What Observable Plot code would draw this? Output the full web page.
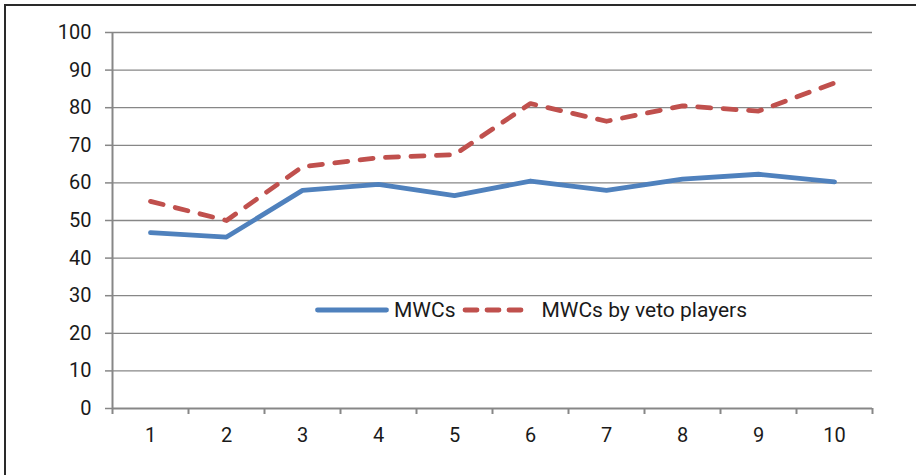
<!DOCTYPE html>
<html>
<head>
<meta charset="utf-8">
<script src="https://cdn.jsdelivr.net/npm/d3@7"></script>
<script src="https://cdn.jsdelivr.net/npm/@observablehq/plot@0.6"></script>
<style>
  html, body { margin: 0; padding: 0; background: #fff; }
  #wrap { position: relative; width: 916px; height: 475px; overflow: hidden; font-family: Roboto, sans-serif; }
  #frame { position: absolute; left: 4px; top: 4px; width: 1000px; height: 1000px; border-left: 2px solid #2a2a2a; border-top: 2px solid #2a2a2a; }
  #legend { position: absolute; left: 315px; top: 296px; display: flex; align-items: center; font-size: 21px; line-height: 28px; color: #1a1a1a; white-space: nowrap; }
  #legend svg { display: block; }
  #chart svg text { font-size: 20px !important; font-family: Roboto, sans-serif !important; }
</style>
</head>
<body>
<div id="wrap">
  <div id="frame"></div>
  <div id="chart"></div>
  <div id="legend"></div>
</div>
<script>
const categories = [1, 2, 3, 4, 5, 6, 7, 8, 9, 10];
const mwcs = [46.8, 45.6, 58.0, 59.6, 56.6, 60.5, 58.0, 61.0, 62.3, 60.3];
const mwcsVeto = [55.1, 50.0, 64.3, 66.7, 67.5, 81.1, 76.4, 80.5, 79.1, 86.6];
const yTicks = [0, 10, 20, 30, 40, 50, 60, 70, 80, 90, 100];
const seriesNames = ["MWCs", "MWCs by veto players"];
const seriesColors = ["#4F81BD", "#C0504D"];

const boundaries = [0.5, ...categories.map(c => c + 0.5)];
const rows = categories.map((c, i) => ({cat: c, value: mwcs[i], series: seriesNames[0]}));
const rowsVeto = categories.map((c, i) => ({cat: c, value: mwcsVeto[i], series: seriesNames[1]}));

const chart = Plot.plot({
  width: 916,
  height: 475,
  marginLeft: 112,
  marginRight: 44,
  marginTop: 32,
  marginBottom: 67,
  style: {fontFamily: "Roboto, sans-serif", fontSize: "20px", color: "#1a1a1a", background: "transparent", overflow: "visible"},
  x: {domain: [0.5, 10.5], axis: null},
  y: {domain: [0, 100], axis: null},
  marks: [
    Plot.ruleY(yTicks.filter(t => t > 0), {stroke: "#878787", strokeWidth: 1.3, strokeOpacity: 1}),
    Plot.axisY({ticks: yTicks, tickSize: 7, tickPadding: 14, stroke: "#878787", strokeWidth: 1.5, fill: "#1a1a1a", strokeOpacity: 1, fontSize: 20, label: null}),
    Plot.axisX({ticks: boundaries, tickSize: 6, tickFormat: () => "", stroke: "#878787", strokeWidth: 2, strokeOpacity: 1, label: null}),
    Plot.axisX({ticks: categories, tickSize: 0, tickPadding: 19, fill: "#1a1a1a", fontSize: 20, label: null, tickFormat: d => String(d)}),
    Plot.ruleX([0.5], {stroke: "#878787", strokeWidth: 2}),
    Plot.ruleY([0], {stroke: "#878787", strokeWidth: 2}),
    Plot.line(rows, {x: "cat", y: "value", stroke: seriesColors[0], strokeWidth: 4.8, strokeLinejoin: "round", strokeLinecap: "round"}),
    Plot.line(rowsVeto, {x: "cat", y: "value", stroke: seriesColors[1], strokeWidth: 4.8, strokeDasharray: "13,12.5", strokeLinecap: "round", strokeLinejoin: "round"})
  ]
});
document.getElementById("chart").appendChild(chart);

const legend = document.getElementById("legend");
legend.innerHTML = `
  <svg width="74" height="10"><line x1="2.5" y1="5" x2="71.5" y2="5" stroke="${seriesColors[0]}" stroke-width="4.8" stroke-linecap="round"/></svg>
  <span style="margin-left:5px">${seriesNames[0]}</span>
  <svg width="66" height="10" style="margin-left:7px"><line x1="3" y1="5" x2="63" y2="5" stroke="${seriesColors[1]}" stroke-width="4.8" stroke-linecap="round" stroke-dasharray="12,10"/></svg>
  <span style="margin-left:13px">${seriesNames[1]}</span>`;
</script>
</body>
</html>
